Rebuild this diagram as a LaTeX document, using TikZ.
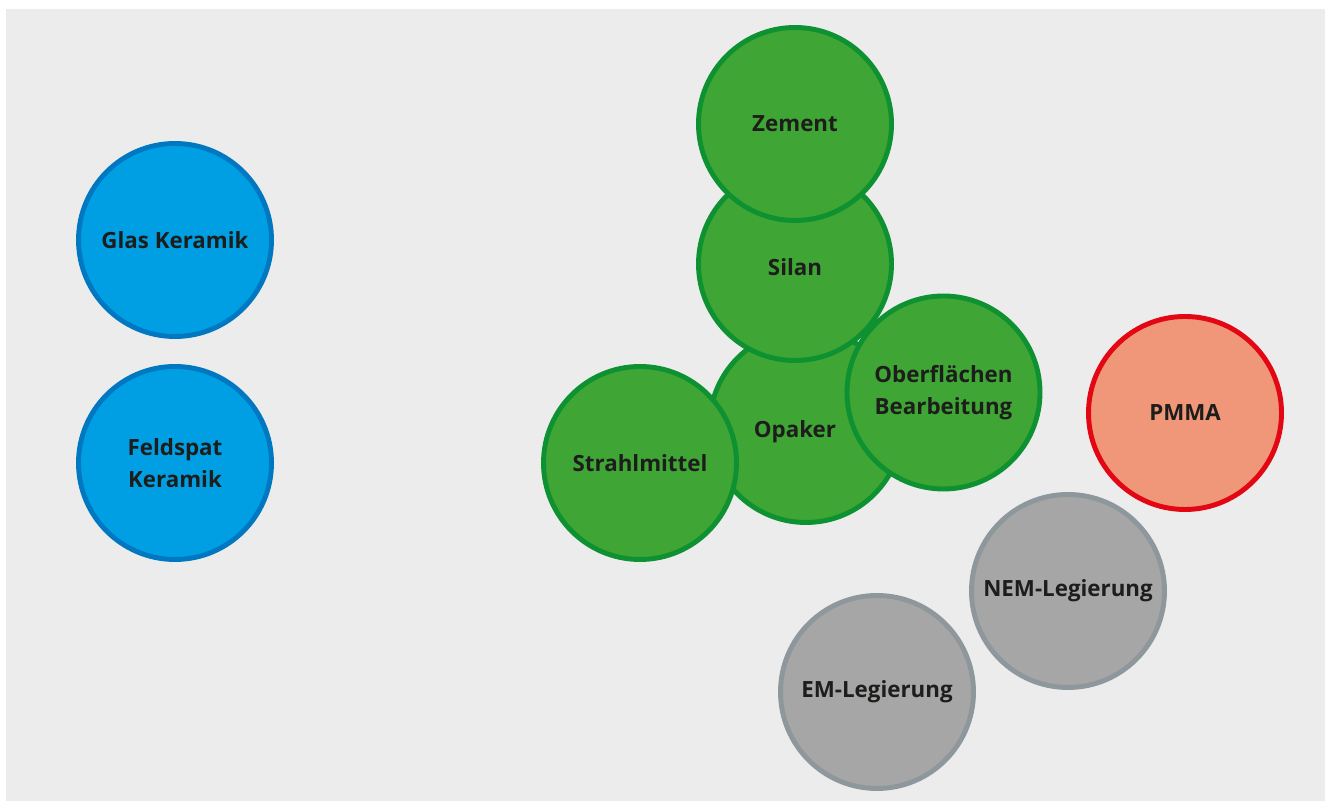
\documentclass[tikz,border=0pt]{standalone}
\usepackage{fontspec}
\setsansfont{Open Sans}
\usepackage{tikz}
\usetikzlibrary{positioning}

\definecolor{bgGrey}{HTML}{ECECEC}
\definecolor{keraFill}{HTML}{009FE3}
\definecolor{keraRim}{HTML}{0078C1}
\definecolor{hilfFill}{HTML}{3FA535}
\definecolor{hilfRim}{HTML}{0E9131}
\definecolor{pmmaFill}{HTML}{F0977A}
\definecolor{pmmaRim}{HTML}{E30613}
\definecolor{legFill}{HTML}{A6A6A6}
\definecolor{legRim}{HTML}{8E979C}
\definecolor{labelInk}{HTML}{1D1D1B}

\begin{document}
\begin{tikzpicture}[
  every node/.style={font=\sffamily\bfseries\fontsize{12.7}{18.2}\selectfont,
    align=center,text=labelInk},
  blob/.style={circle,minimum size=3.86cm,inner sep=0pt,line width=2.8pt},
  keramik/.style={blob,fill=keraFill,draw=keraRim},
  hilfs/.style={blob,fill=hilfFill,draw=hilfRim},
  kunststoff/.style={blob,fill=pmmaFill,draw=pmmaRim},
  legierung/.style={blob,fill=legFill,draw=legRim}
]
  % 背景
  \useasboundingbox (0,0) rectangle (26.5,16.06);
  \fill[bgGrey] (0.12,0.04) rectangle (26.5,15.88);

  % セラミック
  \node[keramik] (glas) at (3.50,11.26) {Glas Keramik};
  \node[keramik] (feldspat) at (3.50,6.80) {Feldspat\\Keramik};

  % 補助材料
  \node[hilfs,text height=0.58cm,text depth=0.1cm] (opaker) at (16.12,7.54)
    {Opaker\hspace*{0.44cm}};
  \node[hilfs,text height=0.58cm,text depth=0.1cm] (silan) at (15.90,10.78) {Silan};
  \node[hilfs] (zement) at (15.90,13.58) {Zement};
  \node[hilfs] (oberflaeche) at (18.87,8.21) {Oberflächen\\Bearbeitung};
  \node[hilfs] (strahl) at (12.80,6.80) {Strahlmittel};

  % 樹脂
  \node[kunststoff] (pmma) at (23.70,7.80) {PMMA};

  % 合金
  \node[legierung] (nem) at (21.36,4.24) {NEM-Legierung};
  \node[legierung] (em) at (17.54,2.22) {EM-Legierung};
\end{tikzpicture}
\end{document}
